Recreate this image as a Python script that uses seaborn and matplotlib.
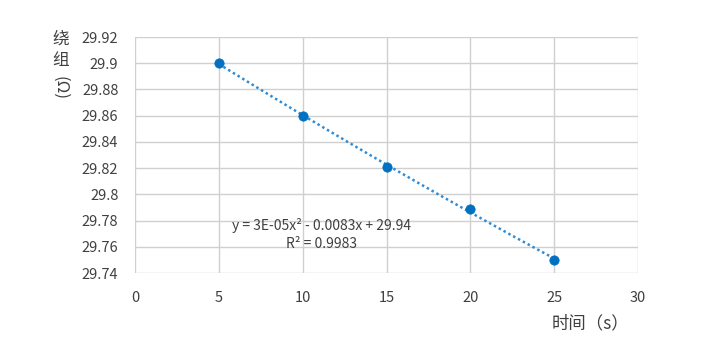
import numpy as np
import pandas as pd
import seaborn as sns
import matplotlib.pyplot as plt

time_s = [5, 10, 15, 20, 25]
winding_ohm = [29.9, 29.86, 29.821, 29.789, 29.75]
x_ticks = [0, 5, 10, 15, 20, 25, 30]
y_ticks = [29.74, 29.76, 29.78, 29.8, 29.82, 29.84, 29.86, 29.88, 29.9, 29.92]
y_tick_labels = ['29.74', '29.76', '29.78', '29.8', '29.82', '29.84', '29.86', '29.88', '29.9', '29.92']
equation = 'y = 3E-05x² - 0.0083x + 29.94'
r_squared = 'R² = 0.9983'

sns.set_style('white')
plt.rcParams['font.family'] = ['Noto Sans CJK SC', 'DejaVu Sans']

df = pd.DataFrame({'t': time_s, 'r': winding_ohm})
blue = '#0070C0'

fig = plt.figure(figsize=(7.05, 3.53), dpi=100)
ax = fig.add_axes([0.1915, 0.2266, 0.7135, 0.6684])

# quadratic trendline (dotted), like Excel
coef = np.polyfit(df['t'], df['r'], 2)
xs = np.linspace(min(time_s), max(time_s), 100)
trend = pd.DataFrame({'t': xs, 'r': np.polyval(coef, xs)})
sns.lineplot(data=trend, x='t', y='r', ax=ax, color='#2E8BD6', lw=1.8,
             linestyle=(0, (1, 1.2)), zorder=3)
sns.scatterplot(data=df, x='t', y='r', ax=ax, color=blue, s=45,
                edgecolor=blue, zorder=4)

ax.set_xlim(0, 30)
ax.set_ylim(29.74, 29.92)
ax.set_xticks(x_ticks)
ax.set_yticks(y_ticks)
ax.set_yticklabels(y_tick_labels)
ax.grid(True, color='#D0D0D0', lw=1)
for s in ax.spines.values():
    s.set_visible(False)
ax.tick_params(length=0, labelsize=10.5, colors='#404040')
ax.tick_params(axis='x', pad=13)
ax.tick_params(axis='y', pad=12)
ax.set_xlabel('')
ax.set_ylabel('')

ax.text(11.1, 29.776, equation, ha='center', va='center', fontsize=10, color='#404040')
ax.text(11.1, 29.7625, r_squared, ha='center', va='center', fontsize=10, color='#404040')

fig.text(0.838, 0.085, '时间（s）', ha='center', va='center', fontsize=12.5, color='#404040')
fig.text(0.086, 0.888, '绕', ha='center', va='center', fontsize=12, color='#404040')
fig.text(0.086, 0.83, '组', ha='center', va='center', fontsize=12, color='#404040')
fig.text(0.086, 0.75, '(Ω)', ha='center', va='center', fontsize=12, color='#404040', rotation=-90)

fig.savefig('out.png', dpi=100)
